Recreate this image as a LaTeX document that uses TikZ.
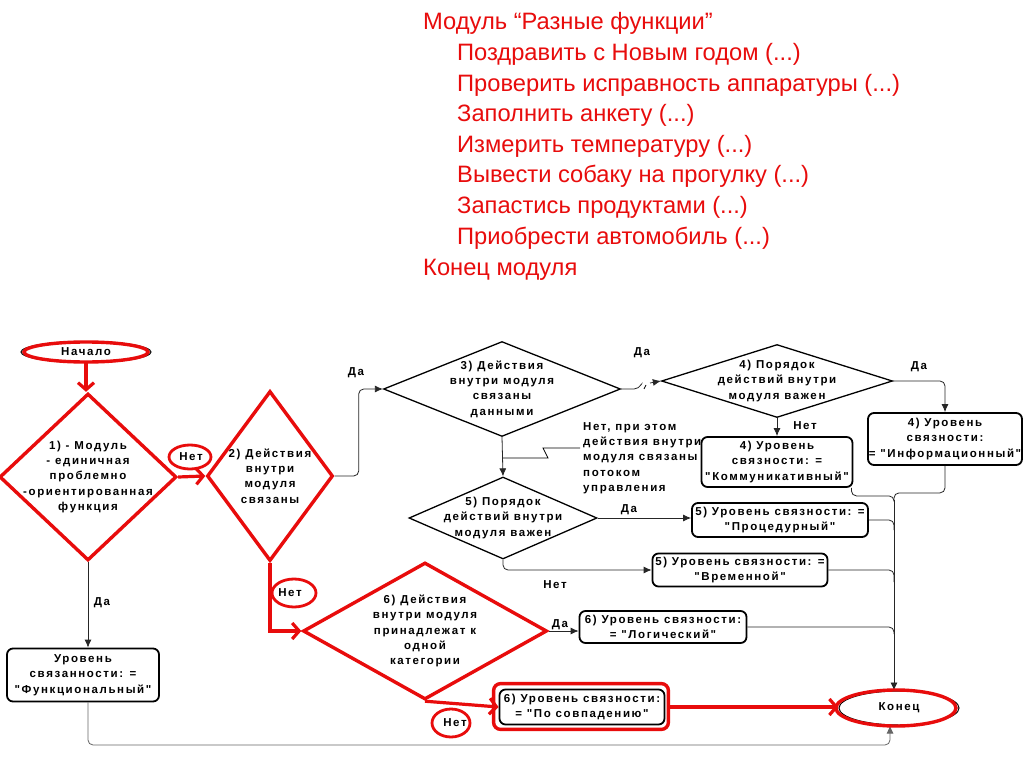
\documentclass[tikz,border=0pt]{standalone}
\usepackage{fontspec}
\setmainfont{Liberation Sans}
\newfontfamily\flowfont[LetterSpace=14]{Liberation Sans}
\usepackage{xcolor}
\usetikzlibrary{shapes.geometric, arrows.meta, positioning, calc}
\definecolor{markred}{RGB}{232,12,12}
\newcommand{\moreargs}{(...)}

\tikzset{
  chart/.style={font={\flowfont\bfseries\fontsize{11.5}{15.3}\selectfont}, align=center, inner sep=0pt},
  lbl/.style={chart},
  modtext/.style={anchor=base west, inner sep=0pt, text=markred, font={\fontsize{23.7}{30}\selectfont}},
  decision/.style={diamond, draw, line width=1.3pt, inner sep=0pt},
  reddecision/.style={decision, draw=markred, line width=3.4pt},
  levelbox/.style={chart, rectangle, rounded corners=6pt, draw, line width=1.8pt},
  terminal/.style={chart, ellipse, draw, line width=1pt},
  conn/.style={draw=black!85, line width=0.8pt, rounded corners=5pt, -{Latex[length=8pt,width=7pt]}},
  redmark/.style={draw=markred, line width=3.4pt},
  redarrow/.style={draw=markred, line width=3.2pt, -{Straight Barb[length=7pt,width=16pt]}},
}

\begin{document}
\begin{tikzpicture}[x=1pt, y=-1pt]
\useasboundingbox[fill=white] (0,0) rectangle (1024,767);

% Module listing
\node[modtext] (modhead) at (423,30) {Модуль “Разные функции”};
\foreach \txt [count=\i] in {Поздравить с Новым годом \moreargs, Проверить исправность аппаратуры \moreargs, Заполнить анкету \moreargs, Измерить температуру \moreargs, Вывести собаку на прогулку \moreargs, Запастись продуктами \moreargs, Приобрести автомобиль \moreargs} {
    \node[modtext] (item\i) at (457,{30+30.6*\i}) {\txt};
}
\node[modtext] (modend) at (423,275) {Конец модуля};

% Terminals
\node[terminal, minimum width=130pt, minimum height=21pt] (start) at (86,352) {Начало};
\node[terminal, minimum width=120pt, minimum height=34pt] (finish) at (899,708) {Конец};

% Decisions
\node[reddecision, minimum width=177pt, minimum height=167pt] (d1) at (88,477) {};
\node[chart] (d1text) at (d1) {1) - Модуль\\- единичная\\проблемно\\-ориентированная\\функция};
\node[reddecision, minimum width=126pt, minimum height=170pt] (d2) at (270,476) {};
\node[chart] (d2text) at (d2) {2) Действия\\внутри\\модуля\\связаны};
\node[decision, minimum width=237pt, minimum height=95pt] (d3) at (502,389) {};
\node[chart] (d3text) at (d3) {3) Действия\\внутри модуля\\связаны\\данными};
\node[decision, minimum width=231pt, minimum height=73pt] (d4) at (777,381) {};
\node[chart] (d4text) at (d4) {4) Порядок\\действий внутри\\модуля важен};
\node[decision, minimum width=188pt, minimum height=82pt] (d5) at (503,518) {};
\node[chart] (d5text) at (d5) {5) Порядок\\действий внутри\\модуля важен};
\node[reddecision, minimum width=244pt, minimum height=137pt] (d6) at (425,631) {};
\node[chart] (d6text) at (d6) {6) Действия\\внутри модуля\\принадлежат к\\одной\\категории};

% Cohesion levels
\node[levelbox, minimum width=152pt, minimum height=53pt] (boxfunc) at (83,675) {Уровень\\связанности: =\\"Функциональный"};
\node[levelbox, minimum width=151pt, minimum height=50pt] (box4c) at (777,462) {4) Уровень\\связности: =\\"Коммуникативный"};
\node[levelbox, minimum width=154pt, minimum height=52pt] (box4i) at (945,439) {4) Уровень\\связности:\\= "Информационный"};
\node[levelbox, minimum width=176pt, minimum height=34pt] (box5p) at (780,520) {5) Уровень связности: =\\"Процедурный"};
\node[levelbox, minimum width=175pt, minimum height=33pt] (box5t) at (740,570) {5) Уровень связности: =\\"Временной"};
\node[levelbox, minimum width=167pt, minimum height=32pt] (box6l) at (663,627) {6) Уровень связности:\\= "Логический"};
\node[levelbox, minimum width=165pt, minimum height=35pt] (box6c) at (582,707) {6) Уровень связности:\\= "По совпадению"};

% Branch labels
\node[lbl] (yes1) at (102,603) {Да};
\node[lbl] (yes2) at (356,373) {Да};
\node[lbl] (yes3) at (642,353) {Да};
\node[lbl] (yes4) at (919,367) {Да};
\node[lbl] (no4) at (805,426) {Нет};
\node[lbl] (yes5) at (629,510) {Да};
\node[lbl] (no5) at (555,585) {Нет};
\node[lbl] (yes6) at (560,625) {Да};
\node[lbl] (no1) at (191,457) {Нет};
\node[lbl] (no2) at (290,593) {Нет};
\node[lbl] (no3) at (455,723) {Нет};
\node[chart, align=left, anchor=west] (note) at (583,458) {Нет, при этом\\действия внутри\\модуля связаны\\потоком\\управления};

% Black connectors
\coordinate (gapA) at (639,389);
\coordinate (gapB) at (650,383);
\coordinate (merge) at (894,500);
\coordinate (bus5p) at (894,530);
\coordinate (bus5t) at (894,582);
\coordinate (bus6l) at (894,634);
\coordinate (lowpath) at (890,745);
\coordinate (noteFoot) at (503,458);
\coordinate (noteTip) at (580,448);
\draw[conn] (d1.south) -- (d1.south |- boxfunc.north);
\draw[conn] (d2.east) -- ++(24,0) |- (d3.west);
\draw[conn, -] (d3.east) -- (gapA) -- ++(2,-4);
\draw[line width=0.8pt] ($(gapA)+(5,0)$) -- ++(2,-4);
\draw[conn] (gapB) -- (d4.west);
\draw[conn] (d4.east) -| (box4i.north);
\draw[conn] (d4.south) -- (box4c.north);
\draw[conn, -] ([xshift=-2pt]box4c.south east) -- ++(0,8) -| (merge);
\draw[conn, -] (box4i.south) -- ++(0,27) -| (merge);
\draw[conn, -] (box5p.east) -| (bus5p);
\draw[conn, -] (box5t.east) -| (bus5t);
\draw[conn, -] (box6l.east) -| (bus6l);
\draw[conn] (merge) -- (merge |- finish.north);
\draw[conn] (d3.south) -- (d5.north);
\draw[line width=0.8pt] (noteFoot) -- ++(45,0) -- ++(-5,-10) -- (noteTip);
\draw[conn] (d5.east) -- (d5.east -| box5p.west);
\draw[conn] (d5.south) |- (box5t.west);
\draw[conn] (d6.east) -- (d6.east -| box6l.west);
\draw[conn, draw=black!60] ([xshift=5pt]boxfunc.south) |- (lowpath) -- (lowpath |- finish.south);

% Red markup
\draw[redmark] (start.center) ellipse [x radius=62, y radius=10];
\draw[redmark] ([xshift=-3pt]finish.center) ellipse [x radius=60, y radius=18];
\draw[redmark, rounded corners=7pt] ([shift={(-5,-5)}]box6c.north west) rectangle ([shift={(3,4)}]box6c.south east);
\draw[redmark, line width=2.8pt] ([xshift=-1pt]no1.center) ellipse [x radius=21, y radius=12];
\draw[redmark, line width=2.8pt] ([xshift=4pt]no2.center) ellipse [x radius=22, y radius=14];
\draw[redmark, line width=2.8pt] ([xshift=-4pt]no3.center) ellipse [x radius=19, y radius=14];
\draw[redarrow] (start.south) -- (start.south |- d1.north);
\draw[redarrow] (d1.east) -- (d2.west);
\draw[redarrow] (d2.south) |- (d6.west);
\draw[redarrow] (d6.south) -- (box6c.west);
\draw[redarrow] ([xshift=3pt]box6c.east) -- (box6c.east -| finish.west);
\end{tikzpicture}
\end{document}
